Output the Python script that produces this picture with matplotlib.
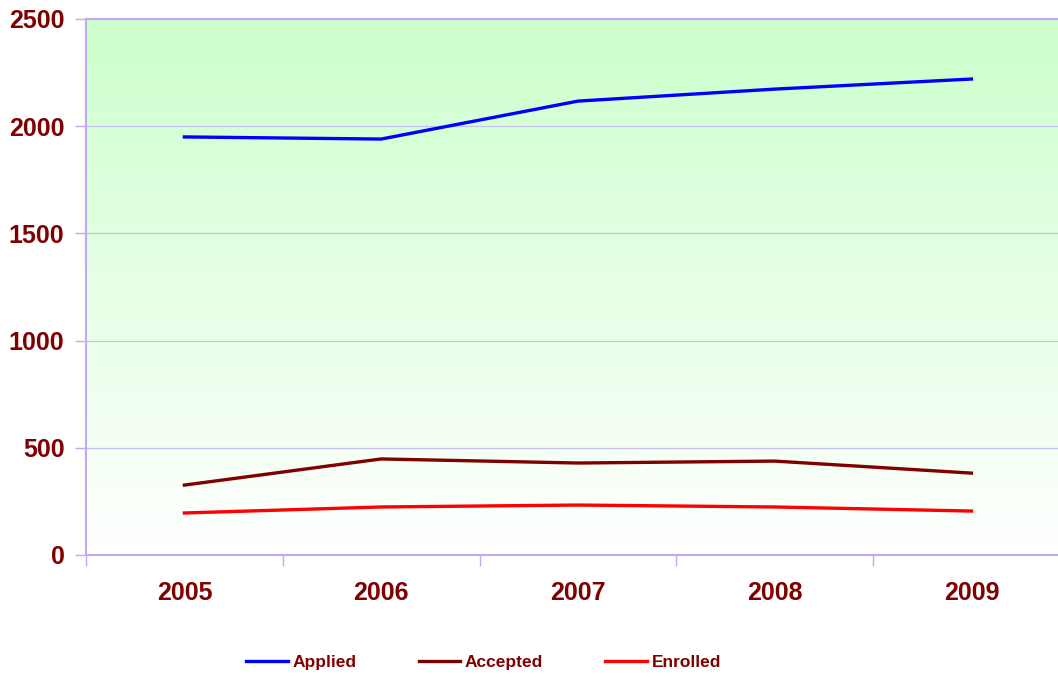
import numpy as np
import matplotlib.pyplot as plt
from matplotlib.colors import LinearSegmentedColormap

years = ['2005', '2006', '2007', '2008', '2009']
applied = [1950, 1940, 2117, 2173, 2220]
accepted = [326, 448, 429, 438, 382]
enrolled = [196, 224, 233, 224, 205]

plt.rcParams['font.family'] = ['Liberation Sans', 'DejaVu Sans']
label_color = '#800000'
spine_color = '#c4a8f4'
grid_color = '#c8c0ee'

fig = plt.figure(figsize=(10.58, 6.77), dpi=100)
ax = fig.add_axes([86 / 1058, 122 / 677, 1 - 86 / 1058, 536 / 677])

x = np.arange(len(years))
ax.set_xlim(-0.5, 4.44)
ax.set_ylim(0, 2500)

# green-to-white gradient background
grad = LinearSegmentedColormap.from_list('bg', ['#ffffff', '#ccffcc'])
ax.imshow(np.linspace(0, 1, 256).reshape(-1, 1), aspect='auto', cmap=grad,
          extent=[-0.5, 4.44, 0, 2500], origin='lower', zorder=0)

ax.plot(x, applied, color='#0000ff', lw=2.4, label='Applied', zorder=3)
ax.plot(x, accepted, color='#800000', lw=2.4, label='Accepted', zorder=3)
ax.plot(x, enrolled, color='#ff0000', lw=2.4, label='Enrolled', zorder=3)

ax.set_yticks([0, 500, 1000, 1500, 2000, 2500])
ax.yaxis.grid(True, color=grid_color, lw=0.9, zorder=1)
ax.set_axisbelow(True)

ax.set_xticks(x)
ax.set_xticklabels(years)
ax.set_xticks(np.arange(-0.5, 4.5, 1), minor=True)
ax.tick_params(axis='x', which='major', length=0, pad=19)
ax.tick_params(axis='x', which='minor', length=8, width=1, color=spine_color, direction='out')
ax.tick_params(axis='y', length=8, width=1, color=spine_color, direction='out', pad=7.5)
for lab in ax.get_xticklabels() + ax.get_yticklabels():
    lab.set_fontsize(18)
    lab.set_fontweight('bold')
    lab.set_color(label_color)

for side in ['left', 'bottom', 'top']:
    ax.spines[side].set_color(spine_color)
    ax.spines[side].set_linewidth(1.5)
ax.spines['right'].set_visible(False)

leg = fig.legend(loc='center', bbox_to_anchor=(0.457, 1 - 662 / 677), ncol=3,
                 frameon=False, handlelength=2.4, handletextpad=0.25,
                 columnspacing=3.6, prop={'weight': 'bold', 'size': 12.5})
for t in leg.get_texts():
    t.set_color(label_color)

fig.savefig('out.png', dpi=100)
